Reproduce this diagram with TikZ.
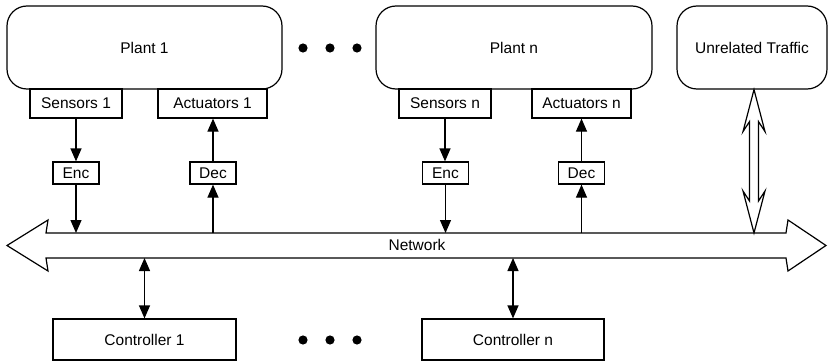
\documentclass[tikz,border=0pt]{standalone}
\usepackage{fontspec}
\setmainfont{Liberation Sans}
\usetikzlibrary{arrows.meta,calc}

\begin{document}
\begin{tikzpicture}[x=1pt,y=-1pt,line width=1.2pt,
  lbl/.style={font=\fontsize{15.5}{18}\selectfont},
  box/.style={draw,inner sep=0pt,lbl},
  plant/.style={box,rounded corners=20pt,minimum height=83pt},
  unit/.style={box,minimum height=29pt},
  codec/.style={box,minimum width=46pt,minimum height=22pt},
  ctrl/.style={box,minimum width=183pt,minimum height=41pt},
  tip/.style={-{Triangle[length=13pt,width=11pt]}},
  both/.style={{Triangle[length=13pt,width=11pt]}-{Triangle[length=13pt,width=11pt]}},
  hollow/.style={draw,fill=white,line join=miter}]
\useasboundingbox (0,0) rectangle (828,361);

% plants and the outside traffic source
\node[plant,minimum width=275pt] (plant1) at (144.5,47.5) {Plant 1};
\node[plant,minimum width=276pt] (plantn) at (514,47.5) {Plant n};
\node[plant,minimum width=150pt] (unrel) at (752,47.5) {Unrelated Traffic};

% sensor and actuator blocks under each plant
\node[unit,minimum width=92pt] (sens1) at (76,103.5) {Sensors 1};
\node[unit,minimum width=109pt] (act1) at (212.5,103.5) {Actuators 1};
\node[unit,minimum width=92pt] (sensn) at (445,103.5) {Sensors n};
\node[unit,minimum width=99pt] (actn) at (581.5,103.5) {Actuators n};

% encoders and decoders
\node[codec] (enc1) at (76,173) {Enc};
\node[codec] (dec1) at (213,173) {Dec};
\node[codec] (encn) at (445.5,173) {Enc};
\node[codec] (decn) at (581.5,173) {Dec};

% controllers
\node[ctrl] (ctrl1) at (144.5,339.5) {Controller 1};
\node[ctrl,minimum width=182pt] (ctrln) at (513,339.5) {Controller n};

% ellipses
\foreach \x in {303,330,357}{
  \fill (\x,48) circle (4.6pt);
  \fill (\x,340) circle (4.6pt);
}

% network bus as a wide double-headed arrow
\coordinate (nt) at (0,233);
\coordinate (nb) at (0,258);
\draw[hollow] (7,245.5) -- (48,220) -- (46,233) -- (786,233) -- (788,220)
  -- (826,245.5) -- (788,271) -- (786,258) -- (46,258) -- (48,271) -- cycle;
\node[lbl] (net) at (417,245) {Network};

% unrelated traffic link: hollow double-headed arrow
\coordinate (ut) at ($(unrel.south)+(2,0)$);
\coordinate (ub) at (ut |- nt);
\draw[hollow] (ut) -- ($(ut)+(11,42)$) -- ($(ut)+(4.5,32)$) -- ($(ub)+(4.5,-32)$)
  -- ($(ub)+(11,-42)$) -- (ub) -- ($(ub)+(-11,-42)$) -- ($(ub)+(-4.5,-32)$)
  -- ($(ut)+(-4.5,32)$) -- ($(ut)+(-11,42)$) -- cycle;

% plant 1 loop
\draw[tip] (sens1) -- (enc1);
\draw[tip] (enc1) -- (enc1 |- nt);
\draw[tip] (dec1 |- nt) -- (dec1);
\draw[tip] (dec1.north) -- (dec1.north |- act1.south);

% plant n loop
\draw[tip] (sensn.south) -- (sensn.south |- encn.north);
\draw[tip] (encn) -- (encn |- nt);
\draw[tip] (decn |- nt) -- (decn);
\draw[tip] (decn) -- (actn);

% controller links
\draw[both] (ctrl1 |- nb) -- (ctrl1);
\draw[both] (ctrln |- nb) -- (ctrln);
\end{tikzpicture}
\end{document}
